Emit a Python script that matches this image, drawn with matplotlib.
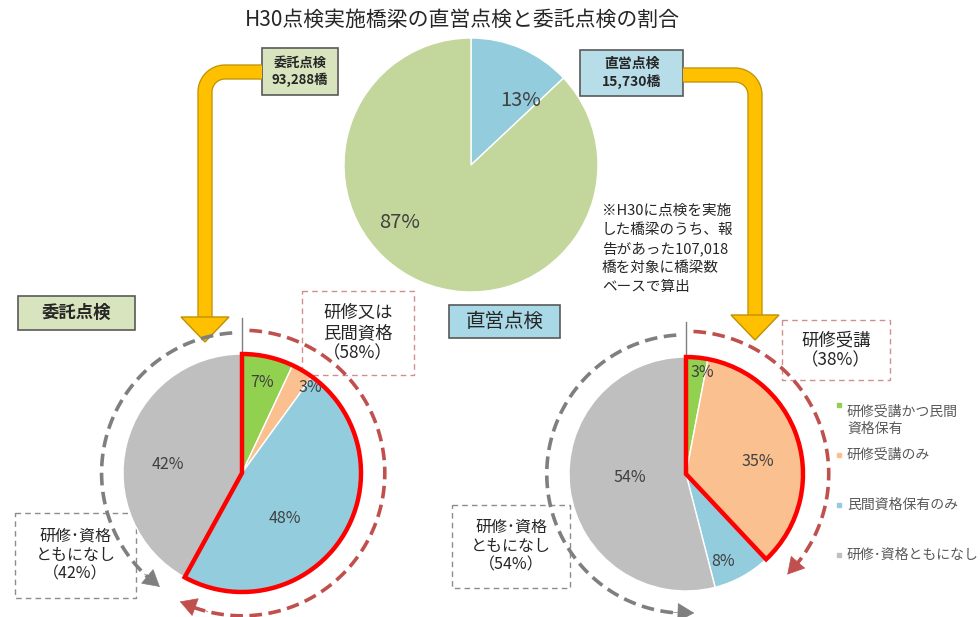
import numpy as np
import matplotlib.pyplot as plt
from matplotlib.patches import Wedge, Rectangle, Polygon

plt.rcParams['font.family'] = ['Noto Sans CJK JP', 'DejaVu Sans']

W, H = 980, 617

title = 'H30点検実施橋梁の直営点検と委託点検の割合'

# 直営 / 委託 split of inspected bridges
top_shares = [13, 87]
top_colors = ['#93cddd', '#c3d69b']
chokuei_count = '15,730橋'
itaku_count = '93,288橋'

# breakdown by inspector qualification
category_labels = ['研修受講かつ民間\n資格保有', '研修受講のみ', '民間資格保有のみ', '研修･資格ともになし']
category_colors = ['#92d050', '#fac090', '#93cddd', '#bfbfbf']
itaku_shares = [7, 3, 48, 42]
chokuei_shares = [3, 35, 8, 54]

note = '※H30に点検を実施\nした橋梁のうち、報\n告があった107,018\n橋を対象に橋梁数\nベースで算出'

K = 1.35
TXT = '#262626'
RED_DASH = '#c0504d'
GRAY_DASH = '#7f7f7f'

fig = plt.figure(figsize=(W / 100, H / 100), dpi=100)
bg = fig.add_axes([0, 0, 1, 1])
bg.set_xlim(0, W)
bg.set_ylim(H, 0)
bg.axis('off')


def pie_axes(cx, cy, r):
    h = K * r
    ax = fig.add_axes([(cx - h) / W, (H - cy - h) / H, 2 * h / W, 2 * h / H])
    ax.set_facecolor('none')
    return ax


def draw_pie(ax, shares, colors, label_pos, fs):
    wedges, _, autotexts = ax.pie(
        shares, colors=colors, startangle=90, counterclock=False,
        autopct=lambda p: f'{p:.0f}%',
        wedgeprops=dict(edgecolor='white', linewidth=1),
        textprops=dict(color='#404040', fontsize=fs))
    for t, pos in zip(autotexts, label_pos):
        t.set_position(pos)
    ax.set_xlim(-K, K)
    ax.set_ylim(-K, K)
    ax.set_aspect('equal')
    ax.axis('off')
    return wedges


def dashed_arc(ax, t0, t1, r, color):
    t = np.radians(np.linspace(t0, t1, 120))
    ax.plot(r * np.cos(t[:-3]), r * np.sin(t[:-3]), color=color, lw=2.6,
            ls=(0, (3.5, 1.8)), solid_capstyle='butt')
    ax.annotate('', xy=(r * np.cos(t[-1]), r * np.sin(t[-1])),
                xytext=(r * np.cos(t[-8]), r * np.sin(t[-8])),
                arrowprops=dict(arrowstyle='-|>,head_length=0.7,head_width=0.4',
                                color=color, lw=0.5, shrinkA=0, shrinkB=0,
                                mutation_scale=16))


def highlight(ax, frac):
    ax.add_patch(Wedge((0, 0), 1, 90 - 360 * frac, 90, fill=False,
                       edgecolor='#ff0000', lw=3.2, joinstyle='miter', zorder=5))


def split_arcs(ax, red_frac, gray_frac, r_red, r_gray, red_gap, gray_gap):
    # red arc runs clockwise over the highlighted share, gray one
    # counter-clockwise over the "neither" share
    dashed_arc(ax, 87, 90 - 360 * red_frac + red_gap, r_red, RED_DASH)
    dashed_arc(ax, 94, 90 + 360 * gray_frac - gray_gap, r_gray, GRAY_DASH)
    ax.plot([0, 0], [0.99, 1.3], color='#7f7f7f', lw=1)


# top pie
ax_top = pie_axes(471, 165, 127)
draw_pie(ax_top, top_shares, top_colors, [(0.39, 0.51), (-0.56, -0.45)], 14.5)

# 委託点検 breakdown
ax_l = pie_axes(242, 473, 119)
draw_pie(ax_l, itaku_shares, category_colors,
         [(0.17, 0.76), (0.57, 0.72), (0.36, -0.38), (-0.62, 0.07)], 11.5)
itaku_frac = sum(itaku_shares[:3]) / sum(itaku_shares)
highlight(ax_l, itaku_frac)
split_arcs(ax_l, itaku_frac, itaku_shares[3] / sum(itaku_shares), 1.2, 1.18, 3, 7)

# 直営点検 breakdown
ax_r = pie_axes(686, 474, 117)
draw_pie(ax_r, chokuei_shares, category_colors,
         [(0.14, 0.87), (0.61, 0.11), (0.32, -0.75), (-0.48, -0.03)], 11.5)
chokuei_frac = sum(chokuei_shares[:2]) / sum(chokuei_shares)
highlight(ax_r, chokuei_frac)
split_arcs(ax_r, chokuei_frac, chokuei_shares[3] / sum(chokuei_shares), 1.22, 1.19, 2, 11)

# title
bg.text(462, 20, title, ha='center', va='center', fontsize=15, color=TXT)


def solid_box(x, y, w, h, fc, text, fs, weight='normal'):
    bg.add_patch(Rectangle((x, y), w, h, facecolor=fc, edgecolor='#595959', lw=1.2))
    bg.text(x + w / 2, y + h / 2, text, ha='center', va='center', fontsize=fs,
            color=TXT, weight=weight, linespacing=1.3)


def dashed_box(x, y, w, h, ec, text, fs):
    bg.add_patch(Rectangle((x, y), w, h, fill=False, edgecolor=ec, lw=1,
                           ls=(0, (4, 3))))
    bg.text(x + w / 2, y + h / 2, text, ha='center', va='center', fontsize=fs,
            color=TXT, linespacing=1.15)


solid_box(262, 48, 76, 47, '#d7e4bd', '委託点検\n' + itaku_count, 9.5, 'bold')
solid_box(580, 50, 103, 46, '#b7dee8', '直営点検\n' + chokuei_count, 10, 'bold')
solid_box(18, 296, 117, 34, '#d7e4bd', '委託点検', 12.5, 'bold')
solid_box(449, 305, 111, 33, '#a9d8e6', '直営点検', 14)

dashed_box(302, 291, 112, 84, '#d08f8f',
           f'研修又は\n民間資格\n（{itaku_frac * 100:.0f}%）', 12.5)
dashed_box(782, 320, 108, 60, '#d08f8f',
           f'研修受講\n（{chokuei_frac * 100:.0f}%）', 12.5)
dashed_box(15, 513, 121, 85, '#8c8c8c',
           f'研修･資格\nともになし\n（{itaku_shares[3]}%）', 11.5)
dashed_box(452, 505, 118, 83, '#8c8c8c',
           f'研修･資格\nともになし\n（{chokuei_shares[3]}%）', 11.5)

bg.text(602, 204, note, ha='left', va='top', fontsize=10.5, color=TXT,
        linespacing=1.42)


def elbow_arrow(x0, y0, x1, y_tip, r=20):
    # horizontal run out of the box, a rounded corner, then straight down
    s = np.sign(x1 - x0)
    cx, cy = x1 - s * r, y0 + r
    phi = np.linspace(0, np.pi / 2, 30)
    xs = np.concatenate([[x0], cx + s * r * np.sin(phi), [x1]])
    ys = np.concatenate([[y0], cy - r * np.cos(phi), [y_tip - 24]])
    bg.plot(xs, ys, color='#bf9000', lw=11, solid_capstyle='butt', zorder=3)
    bg.plot(xs, ys, color='#ffc000', lw=9.2, solid_capstyle='butt', zorder=3)
    bg.add_patch(Polygon([(x1 - 24, y_tip - 25), (x1 + 24, y_tip - 25), (x1, y_tip)],
                         facecolor='#ffc000', edgecolor='#bf9000', lw=1, zorder=4))


elbow_arrow(262, 72, 205, 342)
elbow_arrow(683, 75, 755, 340)

# legend for the breakdown pies
leg_y = [405, 455, 505, 555]
for lab, col, y in zip(category_labels, category_colors, leg_y):
    bg.plot(839, y, marker='s', ms=3.5, color=col, ls='none')
    bg.text(847, y, lab, ha='left', va='top' if '\n' in lab else 'center',
            fontsize=10, color='#595959', linespacing=1.25)

fig.savefig('out.png', dpi=100)
